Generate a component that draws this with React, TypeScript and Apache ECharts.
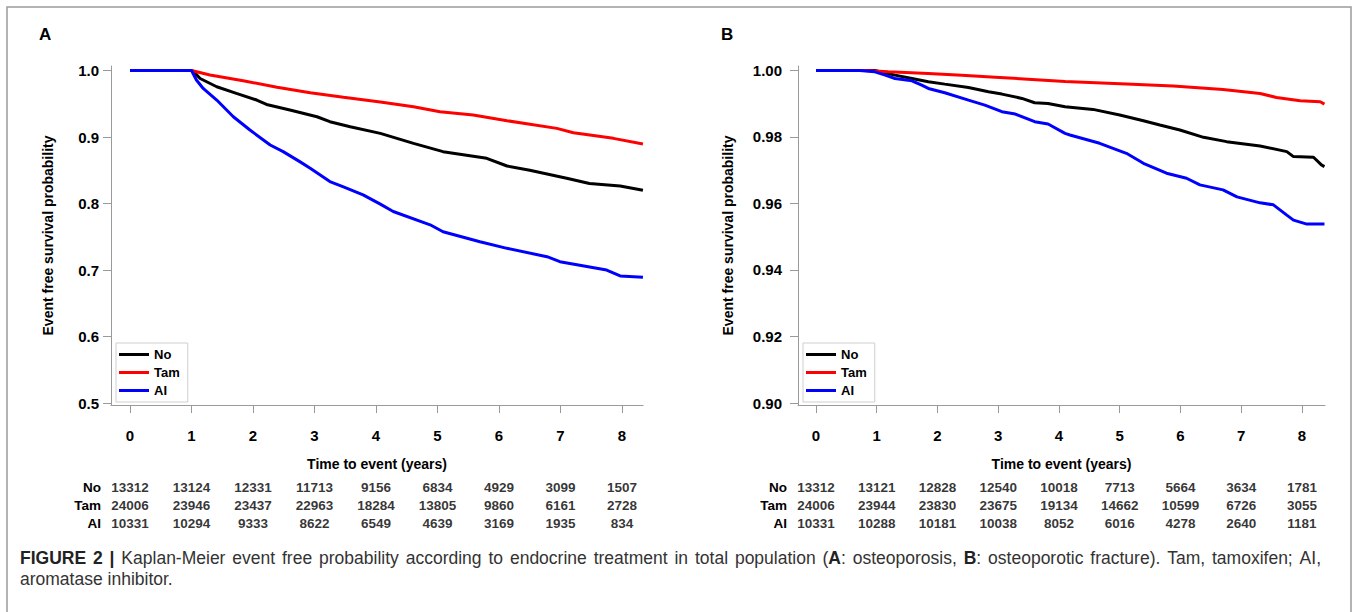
import React, { useEffect, useRef } from "react";
import * as echarts from "echarts";

const FONT = '"Liberation Sans", Arial, Helvetica, sans-serif';

// x ticks (years)
const X_TICKS = [0, 1, 2, 3, 4, 5, 6, 7, 8];
const Y_TICKS_A = [0.5, 0.6, 0.7, 0.8, 0.9, 1.0];
const Y_TICKS_B = [0.9, 0.92, 0.94, 0.96, 0.98, 1.0];
const GROUPS = ["No", "Tam", "AI"];
const COLORS = ["#000000", "#ff0000", "#0000ff"];

// Panel A: osteoporosis  [year, survival]
const A_NO = [[0, 1], [1.0, 1], [1.06, 0.9957], [1.14, 0.988], [1.41, 0.9756], [1.73, 0.9657], [2.06, 0.9556], [2.22, 0.949], [2.6, 0.9406], [3.04, 0.9305], [3.25, 0.923], [3.58, 0.9155], [4.07, 0.9055], [4.61, 0.8905], [5.09, 0.878], [5.8, 0.868], [6.13, 0.8564], [6.5, 0.85], [7.1, 0.838], [7.47, 0.83], [7.97, 0.8263], [8.34, 0.82]];
const A_TAM = [[0, 1], [1.0, 1], [1.3, 0.9932], [1.84, 0.9847], [2.39, 0.9747], [2.93, 0.9667], [3.47, 0.9597], [4.07, 0.9526], [4.61, 0.9456], [5.04, 0.938], [5.58, 0.933], [6.13, 0.9245], [6.94, 0.913], [7.21, 0.9065], [7.86, 0.898], [8.34, 0.8895]];
const A_AI = [[0, 1], [1.0, 1], [1.08, 0.9857], [1.19, 0.973], [1.41, 0.9556], [1.68, 0.9305], [1.95, 0.9105], [2.28, 0.888], [2.49, 0.878], [2.76, 0.863], [2.93, 0.853], [3.25, 0.833], [3.47, 0.825], [3.79, 0.813], [4.07, 0.799], [4.28, 0.788], [4.88, 0.768], [5.09, 0.7576], [5.69, 0.7426], [6.13, 0.7326], [6.78, 0.72], [6.99, 0.7125], [7.75, 0.7], [7.97, 0.691], [8.34, 0.689]];

// Panel B: osteoporotic fracture
const B_NO = [[0, 1], [0.97, 1], [1.3, 0.9986], [1.58, 0.9976], [1.85, 0.9966], [2.12, 0.9959], [2.51, 0.9949], [2.84, 0.9936], [3.06, 0.9929], [3.39, 0.9916], [3.6, 0.9903], [3.82, 0.9901], [4.1, 0.9891], [4.56, 0.9883], [5.0, 0.9866], [5.39, 0.9849], [5.66, 0.9836], [5.99, 0.9821], [6.38, 0.9799], [6.76, 0.9786], [7.31, 0.9773], [7.75, 0.9756], [7.86, 0.9741], [8.19, 0.9739], [8.32, 0.9716], [8.37, 0.9711]];
const B_TAM = [[0, 1], [0.8, 1], [1.19, 0.9996], [1.85, 0.9991], [2.4, 0.9986], [2.95, 0.998], [3.49, 0.9974], [4.1, 0.9967], [5.11, 0.9959], [5.88, 0.9953], [6.7, 0.9943], [7.31, 0.9931], [7.58, 0.9919], [7.97, 0.9909], [8.3, 0.9906], [8.37, 0.9899]];
const B_AI = [[0, 1], [0.72, 1], [0.97, 0.9996], [1.14, 0.9986], [1.3, 0.9976], [1.58, 0.9969], [1.74, 0.9956], [1.85, 0.9946], [2.12, 0.9933], [2.51, 0.9911], [2.78, 0.9896], [3.06, 0.9876], [3.28, 0.9869], [3.6, 0.9846], [3.82, 0.9839], [4.1, 0.9811], [4.18, 0.9806], [4.67, 0.9781], [5.11, 0.9751], [5.39, 0.9721], [5.77, 0.9691], [6.1, 0.9676], [6.32, 0.9656], [6.7, 0.9641], [6.93, 0.962], [7.31, 0.9602], [7.53, 0.9596], [7.75, 0.9565], [7.86, 0.955], [8.08, 0.9538], [8.37, 0.9538]];

// Numbers at risk
const RISK_A_NO = [13312, 13124, 12331, 11713, 9156, 6834, 4929, 3099, 1507];
const RISK_A_TAM = [24006, 23946, 23437, 22963, 18284, 13805, 9860, 6161, 2728];
const RISK_A_AI = [10331, 10294, 9333, 8622, 6549, 4639, 3169, 1935, 834];
const RISK_B_NO = [13312, 13121, 12828, 12540, 10018, 7713, 5664, 3634, 1781];
const RISK_B_TAM = [24006, 23944, 23830, 23675, 19134, 14662, 10599, 6726, 3055];
const RISK_B_AI = [10331, 10288, 10181, 10038, 8052, 6016, 4278, 2640, 1181];

const X_TITLE = "Time to event (years)";
const Y_TITLE = "Event free survival probability";

// Caption: **bold** segments
const CAPTION_LINE1 =
  "**FIGURE 2 |** Kaplan-Meier event free probability according to endocrine treatment in total population (**A**: osteoporosis, **B**: osteoporotic fracture). Tam, tamoxifen; AI,";
const CAPTION_LINE2 = "aromatase inhibitor.";

const AXIS_GRAY = "#9a9a9a";
const CAP_SIZE = 17.5;

function parseWords(s: string): Array<Array<[string, boolean]>> {
  const segs: Array<[string, boolean]> = [];
  const parts = s.split("**");
  parts.forEach((p, i) => {
    if (p) segs.push([p, i % 2 === 1]);
  });
  const words: Array<Array<[string, boolean]>> = [[]];
  segs.forEach(([t, b]) => {
    const pieces = t.split(" ");
    pieces.forEach((piece, k) => {
      if (k > 0) words.push([]);
      if (piece) words[words.length - 1].push([piece, b]);
    });
  });
  return words.filter((w) => w.length > 0);
}

export default function App() {
  const ref = useRef<HTMLDivElement>(null);

  useEffect(() => {
    if (!ref.current) return;
    const chart = echarts.init(ref.current, null, { renderer: "svg" });

    const boldText = { fontFamily: FONT, fontWeight: "bold", color: "#000" };

    const plotX = (gridIndex: number, min: number, max: number) => ({
      gridIndex,
      type: "value",
      min,
      max,
      axisLine: { show: true, onZero: false, lineStyle: { color: AXIS_GRAY, width: 1 } },
      axisTick: { show: true, customValues: X_TICKS, length: 8, lineStyle: { color: AXIS_GRAY } },
      axisLabel: { customValues: X_TICKS, margin: 23, fontSize: 15, ...boldText },
      splitLine: { show: false },
      name: X_TITLE,
      nameLocation: "middle",
      nameGap: 52,
      nameTextStyle: { fontSize: 14, ...boldText },
    });

    const plotY = (gridIndex: number, min: number, max: number, ticks: number[], dec: number, margin: number, gap: number) => ({
      gridIndex,
      type: "value",
      min,
      max,
      axisLine: { show: true, onZero: false, lineStyle: { color: AXIS_GRAY, width: 1 } },
      axisTick: { show: true, customValues: ticks, length: 8, lineStyle: { color: AXIS_GRAY } },
      axisLabel: { customValues: ticks, margin, fontSize: 15, ...boldText, formatter: (v: number) => Number(v).toFixed(dec) },
      splitLine: { show: false },
      name: Y_TITLE,
      nameLocation: "middle",
      nameRotate: 90,
      nameGap: gap,
      nameTextStyle: { fontSize: 14, ...boldText },
    });

    const riskX = (gridIndex: number, min: number, max: number) => ({
      gridIndex,
      type: "value",
      min,
      max,
      show: false,
    });

    const riskY = (gridIndex: number, margin: number) => ({
      gridIndex,
      type: "category",
      data: GROUPS,
      inverse: true,
      axisLine: { show: false },
      axisTick: { show: false },
      axisLabel: { interval: 0, hideOverlap: false, margin, fontSize: 13.5, ...boldText },
    });

    const curve = (name: string, data: number[][], idx: number, color: string) => ({
      name,
      type: "line",
      xAxisIndex: idx,
      yAxisIndex: idx,
      data,
      symbol: "none",
      showSymbol: false,
      lineStyle: { color, width: 3 },
      itemStyle: { color },
      z: 3,
    });

    const riskSeries = (rows: number[][], idx: number) =>
      rows.map((vals, r) => ({
        type: "scatter",
        xAxisIndex: idx,
        yAxisIndex: idx,
        symbolSize: 1,
        itemStyle: { color: "rgba(0,0,0,0)" },
        silent: true,
        data: vals.map((v, i) => [X_TICKS[i], GROUPS[r], v]),
        label: {
          show: true,
          position: "inside",
          formatter: (p: any) => String(p.value[2]),
          fontSize: 13.5,
          ...boldText,
        },
      }));

    const legendCfg = (left: number) => ({
      data: GROUPS,
      left,
      top: 343,
      orient: "vertical",
      icon: "rect",
      itemWidth: 30,
      itemHeight: 3,
      itemGap: 5,
      padding: [5, 8, 5, 3],
      borderColor: "#cfcfcf",
      borderWidth: 1,
      textStyle: { fontSize: 13, ...boldText },
      selectedMode: false,
    });

    // justified caption line 1 (measured with the same font)
    const canvas = document.createElement("canvas");
    const ctx = canvas.getContext("2d") as CanvasRenderingContext2D;
    const measure = (t: string, b: boolean) => {
      ctx.font = `${b ? "bold " : ""}${CAP_SIZE}px ${FONT}`;
      return ctx.measureText(t).width;
    };
    const words = parseWords(CAPTION_LINE1);
    const wordWidths = words.map((w) => w.reduce((s, [t, b]) => s + measure(t, b), 0));
    const capLeft = 20;
    const capRight = 1321;
    const total = wordWidths.reduce((a, b) => a + b, 0);
    const gap = Math.max(measure(" ", false), (capRight - capLeft - total) / (words.length - 1));
    const captionEls: any[] = [];
    let cx = capLeft;
    words.forEach((w, i) => {
      let sx = cx;
      w.forEach(([t, b]) => {
        captionEls.push({
          type: "text",
          x: sx,
          y: 558,
          silent: true,
          style: {
            text: t,
            fontSize: CAP_SIZE,
            fontWeight: b ? "bold" : "normal",
            fontFamily: FONT,
            fill: b ? "#222" : "#333",
            textVerticalAlign: "middle",
          },
        });
        sx += measure(t, b);
      });
      cx += wordWidths[i] + gap;
    });
    captionEls.push({
      type: "text",
      x: capLeft,
      y: 579,
      silent: true,
      style: { text: CAPTION_LINE2, fontSize: CAP_SIZE, fontFamily: FONT, fill: "#333", textVerticalAlign: "middle" },
    });

    const option: any = {
      animation: false,
      backgroundColor: "#ffffff",
      grid: [
        { left: 111, top: 66, width: 532, height: 339, outerBoundsMode: "none" },
        { left: 798, top: 66, width: 527, height: 339, outerBoundsMode: "none" },
        { left: 111, top: 478, width: 532, height: 54, outerBoundsMode: "none" },
        { left: 798, top: 478, width: 527, height: 54, outerBoundsMode: "none" },
      ],
      xAxis: [
        plotX(0, -0.309, 8.341),
        plotX(1, -0.296, 8.379),
        riskX(2, -0.309, 8.341),
        riskX(3, -0.296, 8.379),
      ],
      yAxis: [
        plotY(0, 0.497, 1.0068, Y_TICKS_A, 1, 12, 56),
        plotY(1, 0.8994, 1.00135, Y_TICKS_B, 2, 16, 63),
        riskY(2, 10),
        riskY(3, 11),
      ],
      legend: [legendCfg(116), legendCfg(803)],
      series: [
        curve("No", A_NO, 0, COLORS[0]),
        curve("Tam", A_TAM, 0, COLORS[1]),
        curve("AI", A_AI, 0, COLORS[2]),
        curve("No", B_NO, 1, COLORS[0]),
        curve("Tam", B_TAM, 1, COLORS[1]),
        curve("AI", B_AI, 1, COLORS[2]),
        ...riskSeries([RISK_A_NO, RISK_A_TAM, RISK_A_AI], 2),
        ...riskSeries([RISK_B_NO, RISK_B_TAM, RISK_B_AI], 3),
      ],
      graphic: [
        {
          type: "rect",
          silent: true,
          shape: { x: 7, y: 7, width: 1344, height: 640 },
          style: { fill: "none", stroke: "#9a9a9a", lineWidth: 1.5 },
        },
        {
          type: "text",
          x: 39,
          y: 34,
          style: { text: "A", fontSize: 17, fontWeight: "bold", fontFamily: FONT, fill: "#000", textVerticalAlign: "middle" },
        },
        {
          type: "text",
          x: 721,
          y: 34,
          style: { text: "B", fontSize: 17, fontWeight: "bold", fontFamily: FONT, fill: "#000", textVerticalAlign: "middle" },
        },
        ...captionEls,
      ],
    };

    chart.setOption(option);
    return () => chart.dispose();
  }, []);

  return (
    <div
      ref={ref}
      style={{ position: "absolute", left: 0, top: 0, width: 1357, height: 612, background: "#fff" }}
    />
  );
}
